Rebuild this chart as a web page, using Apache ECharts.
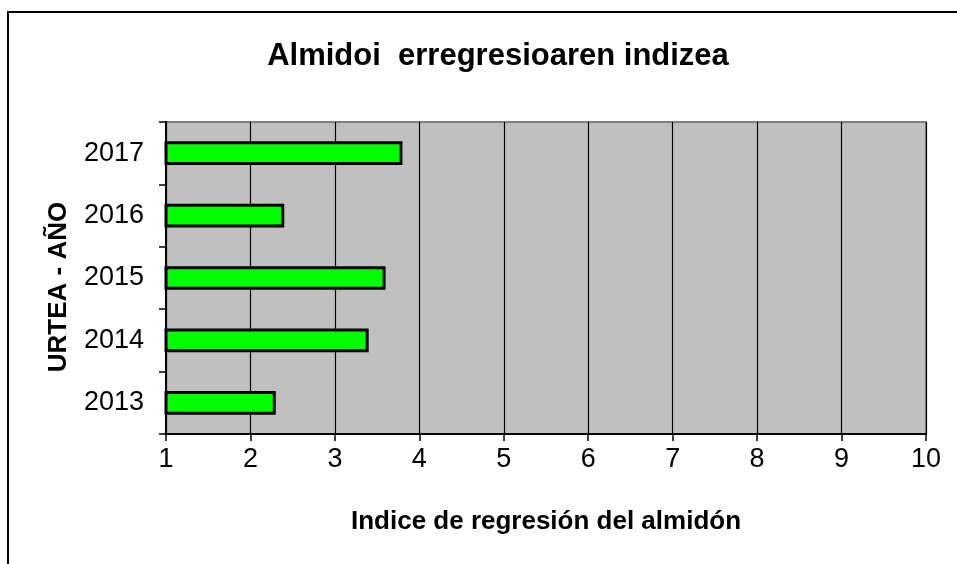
<!DOCTYPE html>
<html>
<head>
<meta charset="utf-8">
<script src="https://cdn.jsdelivr.net/npm/echarts@6/dist/echarts.min.js"></script>
<style>
  html, body { margin: 0; padding: 0; background: #fff; }
  #chart { width: 957px; height: 564px; }
</style>
</head>
<body>
<div id="chart"></div>
<script>
// years (bottom to top) and starch regression index
const years = ['2013', '2014', '2015', '2016', '2017'];
const indexValues = [2.3, 3.4, 3.6, 2.4, 3.8];
const xTicks = [1, 2, 3, 4, 5, 6, 7, 8, 9, 10];

const chart = echarts.init(document.getElementById('chart'));
const font = 'Liberation Sans, Arial, sans-serif';

chart.setOption({
  animation: false,
  title: {
    text: 'Almidoi  erregresioaren indizea',
    left: 493,
    textAlign: 'center',
    top: 36,
    textStyle: { fontFamily: font, fontSize: 31, fontWeight: 'bold', color: '#000' }
  },
  graphic: [
    // outer chart frame (only left and top edges visible)
    { type: 'rect', shape: { x: 8, y: 12, width: 1000, height: 600 },
      style: { fill: null, stroke: '#000', lineWidth: 2 }, silent: true }
  ],
  grid: {
    left: 166, right: 31, top: 122, bottom: 130,
    show: true, backgroundColor: '#c0c0c0', borderColor: '#808080', borderWidth: 2
  },
  xAxis: {
    type: 'value',
    min: xTicks[0],
    max: xTicks[xTicks.length - 1],
    interval: 1,
    name: 'Indice de regresión del almidón',
    nameLocation: 'middle',
    nameGap: 75,
    nameTextStyle: { fontFamily: font, fontSize: 26, fontWeight: 'bold', color: '#000' },
    axisLine: { show: true, lineStyle: { color: '#000', width: 2 } },
    axisTick: { show: true, length: 7, lineStyle: { color: '#000', width: 1.5 } },
    axisLabel: { fontFamily: font, fontSize: 27, color: '#000', margin: 12 },
    splitLine: { show: true, lineStyle: { color: '#000', width: 1.2 } }
  },
  yAxis: {
    type: 'category',
    data: years,
    name: 'URTEA - AÑO',
    nameLocation: 'middle',
    nameGap: 94,
    nameTextStyle: { fontFamily: font, fontSize: 26, fontWeight: 'bold', color: '#000', padding: [0, 18, 0, 0] },
    axisLine: { show: true, lineStyle: { color: '#000', width: 2 } },
    axisTick: { show: true, length: 7, lineStyle: { color: '#000', width: 1.5 } },
    axisLabel: { fontFamily: font, fontSize: 27, color: '#000', margin: 22 },
    splitLine: { show: false }
  },
  series: [{
    type: 'bar',
    data: indexValues,
    barWidth: '38%',
    itemStyle: { color: '#00ff00', borderColor: '#000', borderWidth: 3 }
  }]
});
</script>
</body>
</html>
